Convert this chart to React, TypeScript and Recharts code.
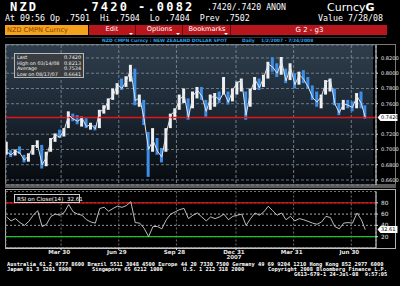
import {
  ComposedChart,
  LineChart,
  Bar,
  Line,
  Cell,
  XAxis,
  YAxis,
  CartesianGrid,
  ReferenceLine,
} from "recharts";

// weekly bars (week ending)
const weekEnding = [
  "2007-01-05", "2007-01-12", "2007-01-19", "2007-01-26", "2007-02-02", "2007-02-09", "2007-02-16", "2007-02-23",
  "2007-03-02", "2007-03-09", "2007-03-16", "2007-03-23", "2007-03-30", "2007-04-06", "2007-04-13", "2007-04-20",
  "2007-04-27", "2007-05-04", "2007-05-11", "2007-05-18", "2007-05-25", "2007-06-01", "2007-06-08", "2007-06-15",
  "2007-06-22", "2007-06-29", "2007-07-06", "2007-07-13", "2007-07-20", "2007-07-27", "2007-08-03", "2007-08-10",
  "2007-08-17", "2007-08-24", "2007-08-31", "2007-09-07", "2007-09-14", "2007-09-21", "2007-09-28", "2007-10-05",
  "2007-10-12", "2007-10-19", "2007-10-26", "2007-11-02", "2007-11-09", "2007-11-16", "2007-11-23", "2007-11-30",
  "2007-12-07", "2007-12-14", "2007-12-21", "2007-12-28", "2008-01-04", "2008-01-11", "2008-01-18", "2008-01-25",
  "2008-02-01", "2008-02-08", "2008-02-15", "2008-02-22", "2008-02-29", "2008-03-07", "2008-03-14", "2008-03-21",
  "2008-03-28", "2008-04-04", "2008-04-11", "2008-04-18", "2008-04-25", "2008-05-02", "2008-05-09", "2008-05-16",
  "2008-05-23", "2008-05-30", "2008-06-06", "2008-06-13", "2008-06-20", "2008-06-27", "2008-07-04", "2008-07-11",
  "2008-07-18", "2008-07-24",
];

const weekHigh = [
  0.710, 0.699, 0.700, 0.704, 0.693, 0.695, 0.706, 0.712, 0.706, 0.697, 0.715, 0.721, 0.726, 0.728, 0.750, 0.747,
  0.745, 0.743, 0.741, 0.735, 0.732, 0.752, 0.758, 0.767, 0.780, 0.787, 0.793, 0.796, 0.811, 0.806, 0.772, 0.765,
  0.723, 0.728, 0.715, 0.702, 0.728, 0.747, 0.754, 0.772, 0.780, 0.767, 0.776, 0.782, 0.782, 0.765, 0.772, 0.774,
  0.776, 0.795, 0.776, 0.780, 0.789, 0.793, 0.776, 0.780, 0.795, 0.793, 0.798, 0.815, 0.821, 0.813, 0.8213, 0.806,
  0.813, 0.800, 0.802, 0.804, 0.795, 0.784, 0.776, 0.772, 0.791, 0.793, 0.780, 0.761, 0.765, 0.765, 0.763, 0.774,
  0.776, 0.758,
];

const weekLow = [
  0.693, 0.690, 0.692, 0.694, 0.683, 0.684, 0.693, 0.702, 0.675, 0.678, 0.697, 0.710, 0.715, 0.717, 0.728, 0.737,
  0.733, 0.730, 0.728, 0.726, 0.725, 0.728, 0.747, 0.752, 0.765, 0.772, 0.778, 0.782, 0.789, 0.758, 0.756, 0.732,
  0.6641, 0.697, 0.693, 0.683, 0.697, 0.728, 0.739, 0.752, 0.761, 0.739, 0.754, 0.767, 0.765, 0.743, 0.752, 0.756,
  0.761, 0.772, 0.759, 0.763, 0.772, 0.776, 0.739, 0.756, 0.778, 0.778, 0.782, 0.793, 0.802, 0.795, 0.798, 0.787,
  0.791, 0.780, 0.785, 0.787, 0.780, 0.765, 0.756, 0.754, 0.772, 0.776, 0.758, 0.745, 0.752, 0.754, 0.750, 0.754,
  0.754, 0.7404,
];

const weekClose = [
  0.697, 0.693, 0.698, 0.695, 0.686, 0.692, 0.704, 0.706, 0.680, 0.690, 0.712, 0.719, 0.716, 0.726, 0.745, 0.740,
  0.737, 0.741, 0.730, 0.733, 0.727, 0.750, 0.752, 0.765, 0.770, 0.785, 0.780, 0.790, 0.805, 0.764, 0.768, 0.740,
  0.700, 0.712, 0.698, 0.690, 0.722, 0.745, 0.751, 0.765, 0.772, 0.742, 0.770, 0.778, 0.770, 0.750, 0.768, 0.770,
  0.765, 0.775, 0.762, 0.778, 0.788, 0.790, 0.745, 0.776, 0.792, 0.781, 0.795, 0.812, 0.808, 0.800, 0.815, 0.790,
  0.808, 0.785, 0.798, 0.792, 0.782, 0.768, 0.762, 0.770, 0.788, 0.792, 0.760, 0.748, 0.760, 0.758, 0.755, 0.770,
  0.760, 0.742,
];

const rsiClose14 = [
  55, 48, 52, 45, 40, 47, 58, 66, 38, 42, 56, 60, 58, 63, 77, 64,
  60, 58, 50, 46, 44, 70, 72, 65, 70, 74, 72, 75, 82, 45, 44, 35,
  20, 38, 38, 34, 50, 60, 64, 68, 70, 52, 58, 62, 55, 48, 55, 52,
  55, 60, 50, 56, 58, 60, 40, 52, 62, 58, 64, 74, 66, 58, 62, 50,
  56, 48, 52, 50, 47, 44, 42, 46, 56, 54, 38, 34, 44, 45, 44, 62,
  50, 32.61,
];

// 0.7400 is covered by the last-price tag in the original
const priceTicks = [0.66, 0.68, 0.7, 0.72, 0.76, 0.78, 0.8, 0.82];
const rsiTicks = [20, 40, 60, 80];
const dateTicks = ["2007-03-30", "2007-06-29", "2007-09-28", "2007-12-31", "2008-03-31", "2008-06-30"];
const dateTickLabels = ["Mar 30", "Jun 29", "Sep 28", "Dec 31", "Mar 31", "Jun 30"];
const lastPrice = 0.742;
const lastRsi = 32.61;

const START = Date.UTC(2007, 0, 2);
const dayOf = (s: string) => {
  const [y, m, d] = s.split("-").map(Number);
  return (Date.UTC(y, m - 1, d) - START) / 86400000;
};

const data = weekEnding.map((d, i) => ({
  x: dayOf(d) - 2,
  range: [weekLow[i], weekHigh[i]],
  close: weekClose[i],
  down: i > 0 && weekClose[i] < weekClose[i - 1],
  rsi: rsiClose14[i],
}));

const xTicks = dateTicks.map(dayOf);
const X_DOMAIN = [0, 584];

const mono = "'DejaVu Sans Mono', 'Liberation Mono', monospace";
const sans = "'DejaVu Sans', 'Liberation Sans', sans-serif";

const PriceTick = ({ x, y, payload }: any) => (
  <text x={x + 1} y={y + 1.8} fill="#e6e6e6" fontSize={5.1} fontFamily={sans}>
    {Number(payload.value).toFixed(4)}
  </text>
);

const RsiTick = ({ x, y, payload }: any) => (
  <text x={x + 1} y={y + 2} fill="#e6e6e6" fontSize={5.8} fontFamily={sans}>
    {payload.value}
  </text>
);

const DateTick = ({ x, y, payload }: any) => {
  const i = xTicks.indexOf(payload.value);
  return (
    <g>
      <text x={x - 2} y={y + 1.5} textAnchor="middle" fill="#e6e6e6" fontSize={5.6} fontWeight="bold" fontFamily={sans}>
        {dateTickLabels[i]}
      </text>
      {i === 3 && (
        <text x={x - 2} y={y + 7} textAnchor="middle" fill="#e6e6e6" fontSize={5.4} fontWeight="bold" fontFamily={sans}>
          2007
        </text>
      )}
    </g>
  );
};

const ValueTag = ({ viewBox, text }: any) => {
  const x = viewBox.x + viewBox.width + 1.5;
  const y = viewBox.y;
  return (
    <g>
      <polygon
        points={`${x},${y} ${x + 3},${y - 3.5} ${x + 20},${y - 3.5} ${x + 20},${y + 3.5} ${x + 3},${y + 3.5}`}
        fill="#ffffff"
      />
      <text x={x + 3.5} y={y + 1.8} fill="#000" fontSize={5} fontFamily={sans}>
        {text}
      </text>
    </g>
  );
};

const abs = (s: any) => ({ position: "absolute" as const, whiteSpace: "pre" as const, ...s });

const bigText = { fontFamily: mono, fontWeight: "bold", fontSize: 12, letterSpacing: 2.2, top: 2, lineHeight: "11px" };
const row2 = { fontFamily: mono, fontSize: 8.3, top: 13.5, lineHeight: "9px" };
const foot = { fontFamily: mono, fontSize: 5.35, fontWeight: "bold", lineHeight: "6px" };

export default function App() {
  return (
    <div style={{ position: "absolute", left: 0, top: 0, width: 400, height: 286, background: "#000", overflow: "hidden", color: "#fff" }}>
      {/* header */}
      <div style={abs({ left: 10, ...bigText })}>NZD</div>
      <div style={abs({ left: 82, ...bigText })}>.7420</div>
      <div style={abs({ left: 138, ...bigText })}>-.0082</div>
      <div style={abs({ left: 207, top: 3, fontFamily: mono, fontSize: 8.2, lineHeight: "9px" })}>.7420/.7420 ANON</div>
      <div style={abs({ left: 327, top: 2, fontFamily: sans, fontSize: 11, lineHeight: "11px" })}>
        Curncy<b>G</b>
      </div>
      <div style={abs({ left: 5, ...row2 })}>At 09:56 Op .7501  Hi .7504  Lo .7404  Prev .7502</div>
      <div style={abs({ left: 318, ...row2 })}>Value 7/28/08</div>

      {/* menu bar */}
      <div style={abs({ left: 5, top: 25, width: 83, height: 10, background: "#f3a21c", color: "#8a3e00", fontFamily: sans, fontSize: 6.6, lineHeight: "10px", paddingLeft: 2, boxSizing: "border-box" })}>
        NZD CMPN Curncy
      </div>
      <div style={abs({ left: 89, top: 25, width: 298, height: 10, background: "#b8161c" })} />
      {[
        { l: 89, w: 47, t: "Edit" },
        { l: 137, w: 46, t: "Options" },
        { l: 184, w: 47, t: "Bookmarks" },
      ].map((b) => (
        <div key={b.t} style={abs({ left: b.l, top: 25, width: b.w, height: 10, borderRight: "1px solid #6a0a0a", boxSizing: "border-box", textAlign: "center", fontFamily: sans, fontSize: 6.6, lineHeight: "9px" })}>
          {b.t}
          <div style={abs({ right: 2, bottom: 0, width: 0, height: 0, borderLeft: "2px solid transparent", borderRight: "2px solid transparent", borderTop: "2px solid #fff" })} />
        </div>
      ))}
      <div style={abs({ left: 232, top: 25, width: 155, height: 10, textAlign: "center", fontFamily: sans, fontSize: 7, lineHeight: "10px" })}>G 2 - g3</div>

      {/* title strip */}
      <div style={abs({ left: 5, top: 37, width: 381, height: 7, borderTop: "1px solid #333", boxSizing: "border-box" })} />
      <div style={abs({ left: 102, top: 37.5, color: "#2b9fe6", fontFamily: sans, fontWeight: "bold", fontSize: 4.5 })}>NZD CMPN Curncy : NEW ZEALAND DOLLAR SPOT</div>
      <div style={abs({ left: 242, top: 37.5, color: "#2b9fe6", fontFamily: sans, fontWeight: "bold", fontSize: 4.5 })}>Daily    1/2/2007 - 7/24/2008</div>

      {/* price panel background */}
      <div style={abs({ left: 6, top: 45, width: 367, height: 140, background: "linear-gradient(#2f3e4c, #1d2935 45%, #070a0e)" })} />
      <div style={abs({ left: 5, top: 44, width: 391, height: 142, border: "1px solid #7a7a7a", boxSizing: "border-box" })} />
      <div style={abs({ left: 5, top: 184, width: 391, height: 4, background: "#5a5a5a" })} />
      <div style={abs({ left: 5, top: 189, width: 391, height: 60, border: "1px solid #b0b0b0", boxSizing: "border-box" })} />

      <div style={abs({ left: 0, top: 0 })}>
        <ComposedChart width={400} height={190} data={data} margin={{ top: 45, right: 0, bottom: 5, left: 6 }}>
          <CartesianGrid stroke="#8793a0" strokeDasharray="3 2" strokeWidth={0.8} />
          <XAxis dataKey="x" type="number" domain={X_DOMAIN} ticks={xTicks} hide allowDataOverflow />
          <YAxis
            orientation="right"
            width={24}
            domain={[0.6534, 0.837]}
            ticks={priceTicks}
            interval={0}
            allowDataOverflow
            tick={<PriceTick />}
            tickSize={2}
            tickLine={{ stroke: "#ddd" }}
            axisLine={{ stroke: "#e0e0e0" }}
          />
          <ReferenceLine y={lastPrice} stroke="#e3141c" strokeWidth={1.4} label={<ValueTag text="0.7420" />} />
          <Line dataKey="close" stroke="#dfe4ea" strokeWidth={1} dot={false} isAnimationActive={false} />
          <Bar dataKey="range" barSize={3} isAnimationActive={false}>
            {data.map((d, i) => (
              <Cell key={i} fill={d.down ? "#3b8fe8" : "#eef0f2"} />
            ))}
          </Bar>
        </ComposedChart>
      </div>

      {/* legend box */}
      <div style={abs({ left: 14, top: 53, width: 70, height: 25, background: "#3a3d40", border: "1px solid #b8b8b8", boxSizing: "border-box", fontFamily: sans, fontSize: 4.9, lineHeight: "5.5px", color: "#f0f0f0", padding: "1px 2px" })}>
        {[
          ["Last", "0.7420"],
          ["High on 03/14/08", "0.8213"],
          ["Average", "0.7534"],
          ["Low on 08/17/07", "0.6641"],
        ].map(([a, b]) => (
          <div key={a} style={{ display: "flex", justifyContent: "space-between" }}>
            <span>{a}</span>
            <span>{b}</span>
          </div>
        ))}
      </div>

      <div style={abs({ left: 0, top: 185 })}>
        <LineChart width={400} height={80} data={data} margin={{ top: 6.5, right: 0, bottom: 0, left: 6 }}>
          <CartesianGrid stroke="#8a8a8a" strokeDasharray="2 2" strokeWidth={0.8} horizontalPoints={[]} />
          <XAxis
            dataKey="x"
            type="number"
            domain={X_DOMAIN}
            ticks={xTicks}
            interval={0}
            height={17}
            tick={<DateTick />}
            tickSize={2}
            tickLine={{ stroke: "#ddd" }}
            axisLine={{ stroke: "#e0e0e0" }}
            allowDataOverflow
          />
          <YAxis
            orientation="right"
            width={24}
            domain={[0, 100]}
            ticks={rsiTicks}
            interval={0}
            tick={<RsiTick />}
            tickSize={2}
            tickLine={{ stroke: "#ddd" }}
            axisLine={{ stroke: "#e0e0e0" }}
          />
          <ReferenceLine y={60} stroke="#8a8a8a" strokeDasharray="2 2" strokeWidth={0.8} />
          <ReferenceLine y={40} stroke="#8a8a8a" strokeDasharray="2 2" strokeWidth={0.8} />
          <ReferenceLine y={80} stroke="#e3141c" strokeWidth={1.3} />
          <ReferenceLine y={20} stroke="#22c02a" strokeWidth={1.3} />
          <ReferenceLine y={lastRsi} stroke="none" label={<ValueTag text="32.61" />} />
          <Line dataKey="rsi" stroke="#d0d0d0" strokeWidth={0.9} dot={false} isAnimationActive={false} />
        </LineChart>
      </div>

      <div style={abs({ left: 14, top: 194, height: 9, border: "1px solid #d0d0d0", background: "#000", fontFamily: sans, fontSize: 5.6, lineHeight: "8px", padding: "0 2px", boxSizing: "border-box", width: 66 })}>
        RSI on Close(14)  32.61
      </div>

      {/* footer */}
      <div style={abs({ left: 7, top: 261, ...foot })}>
        Australia 61 2 9777 8600 Brazil 5511 3048 4500 Europe 44 20 7330 7500 Germany 49 69 9204 1210 Hong Kong 852 2977 6000
      </div>
      <div style={abs({ left: 7, top: 266, ...foot })}>Japan 81 3 3201 8900</div>
      <div style={abs({ left: 92, top: 266, ...foot })}>Singapore 65 6212 1000</div>
      <div style={abs({ left: 183, top: 266, ...foot })}>U.S. 1 212 318 2000</div>
      <div style={abs({ left: 268, top: 266, ...foot })}>Copyright 2008 Bloomberg Finance L.P.</div>
      <div style={abs({ left: 294, top: 271, ...foot })}>G613-679-1 24-Jul-08  9:57:05</div>
    </div>
  );
}
